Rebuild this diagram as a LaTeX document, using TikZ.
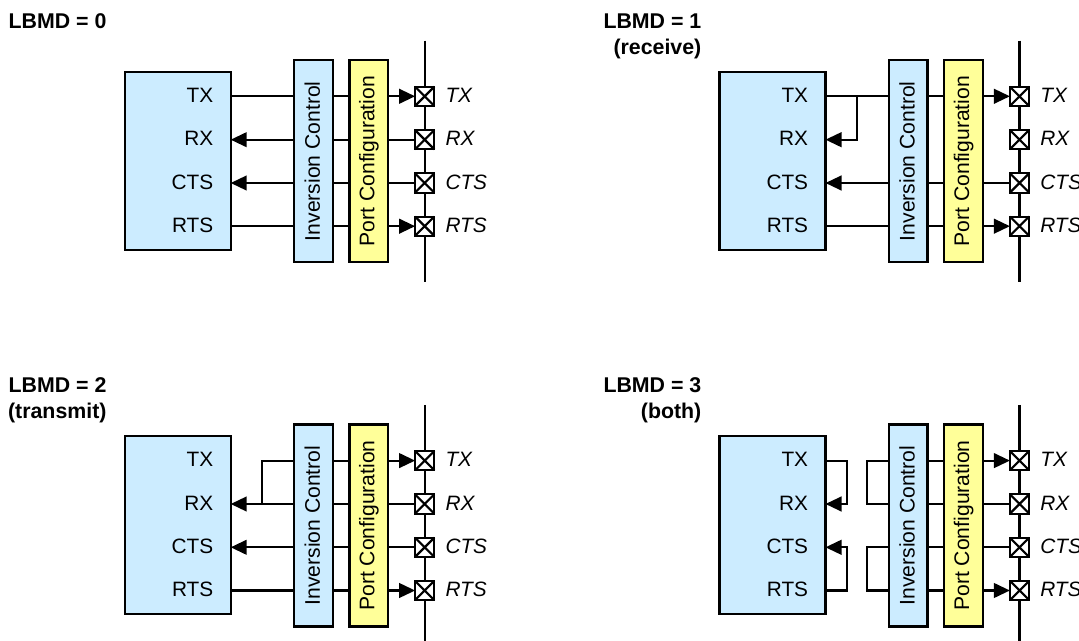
\documentclass[tikz,border=0pt]{standalone}
\usepackage{fontspec}
\setmainfont{Liberation Sans}
\usetikzlibrary{arrows.meta}
\definecolor{boxblue}{HTML}{CCECFF}
\definecolor{boxyellow}{HTML}{FFFF99}
\tikzset{
  wire/.style={line width=1.6pt,line cap=butt},
  tipped/.style={wire,-{Triangle[length=12pt,width=11pt]}},
  blockbox/.style={draw=black,line width=1.6pt,inner sep=0pt,outer sep=0pt},
  mainbox/.style={blockbox,fill=boxblue,minimum width=79.5pt,minimum height=133.5pt},
  invbox/.style={blockbox,fill=boxblue,minimum width=29pt,minimum height=151.5pt},
  portbox/.style={blockbox,fill=boxyellow,minimum width=29pt,minimum height=151.5pt},
  pinbox/.style={blockbox,fill=white,minimum size=14.4pt},
  sigtext/.style={font=\fontsize{15.6}{18}\selectfont,inner sep=0pt,outer sep=0pt,anchor=base east},
  pintext/.style={font=\itshape\fontsize{15.6}{18}\selectfont,inner sep=0pt,outer sep=0pt,anchor=base west},
  blocktext/.style={font=\fontsize{15.85}{18}\selectfont,inner sep=0pt,rotate=90},
  titletext/.style={font=\bfseries\fontsize{16}{19.5}\selectfont,inner sep=0pt,outer sep=0pt,align=right,anchor=north east}
}
% a signal row: name, y
\newcommand{\sigrow}[2]{%
  \node[pinbox] (p#1) at (424.7,#2) {};
  \draw[line width=1.6pt] (p#1.north west) -- (p#1.south east) (p#1.north east) -- (p#1.south west);
  \node[sigtext] (s#1) at (213.3,#2+6.3) {#1};
  \node[pintext] (e#1) at (445.5,#2+6.3) {#1};
}
% wire segments
\newcommand{\mi}[2][wire]{\draw[#1] (p#2 -| inv.west) -- (p#2 -| main.east);}
\newcommand{\mo}[2][wire]{\draw[#1] (p#2 -| main.east) -- (p#2 -| inv.west);}
\newcommand{\ip}[1]{\draw[wire] (p#1 -| inv.east) -- (p#1 -| port.west);}
\newcommand{\pin}[2][wire]{\draw[#1] (p#2 -| port.east) -- (p#2.west);}
\newcommand{\panel}[5]{%
\begin{scope}[shift={(#2,#3)},name prefix=#1-]
  \coordinate (bustop) at (424.7,40.7);
  \coordinate (busend) at (424.7,281.7);
  \draw[wire] (bustop) -- (busend);
  \node[titletext] (title) at (106.5,13.5) {#4};
  \node[mainbox] (main) at (177.7,161) {};
  \node[invbox] (inv) at (313.3,161.2) {};
  \node[portbox] (port) at (368.8,161.2) {};
  \node[blocktext] (invlabel) at (312.3,161.2) {Inversion Control};
  \node[blocktext] (portlabel) at (port.center) {Port Configuration};
  \sigrow{TX}{96.3}
  \sigrow{RX}{139.7}
  \sigrow{CTS}{183}
  \sigrow{RTS}{226.2}
  \coordinate (jA) at (252,161);
  \coordinate (jB) at (262.2,161);
  \coordinate (jC) at (272,161);
  #5
\end{scope}}
\begin{document}
\begin{tikzpicture}[x=0.75pt,y=-0.75pt]
\useasboundingbox (0,0) rectangle (1079,641);
\clip (0,0) rectangle (1079,641);
\panel{a}{0}{0}{LBMD = 0}{
  \mo{TX}\ip{TX}\pin[tipped]{TX}
  \mi[tipped]{RX}\ip{RX}\pin{RX}
  \mi[tipped]{CTS}\ip{CTS}\pin{CTS}
  \mo{RTS}\ip{RTS}\pin[tipped]{RTS}
}
\panel{b}{594.8}{0}{LBMD = 1\\(receive)}{
  \mo{TX}\ip{TX}\pin[tipped]{TX}
  \draw[tipped] (pTX -| jB) -- (pRX -| jB) -- (pRX -| main.east);
  \mi[tipped]{CTS}\ip{CTS}\pin{CTS}
  \mo{RTS}\ip{RTS}\pin[tipped]{RTS}
}
\panel{c}{0}{364.3}{LBMD = 2\\(transmit)}{
  \draw[wire] (pTX -| inv.west) -- (pTX -| jB) -- (pRX -| jB);
  \ip{TX}\pin[tipped]{TX}
  \mi[tipped]{RX}\ip{RX}\pin{RX}
  \mi[tipped]{CTS}\ip{CTS}\pin{CTS}
  \mo{RTS}\ip{RTS}\pin[tipped]{RTS}
}
\panel{d}{594.8}{364.3}{LBMD = 3\\(both)}{
  \draw[tipped] (pTX -| main.east) -- (pTX -| jA) -- (pRX -| jA) -- (pRX -| main.east);
  \draw[wire] (pTX -| inv.west) -- (pTX -| jC) -- (pRX -| jC) -- (pRX -| inv.west);
  \draw[tipped] (pRTS -| main.east) -- (pRTS -| jA) -- (pCTS -| jA) -- (pCTS -| main.east);
  \draw[wire] (pCTS -| inv.west) -- (pCTS -| jC) -- (pRTS -| jC) -- (pRTS -| inv.west);
  \ip{TX}\pin[tipped]{TX}
  \ip{RX}\pin{RX}
  \ip{CTS}\pin{CTS}
  \ip{RTS}\pin[tipped]{RTS}
}
\end{tikzpicture}
\end{document}
